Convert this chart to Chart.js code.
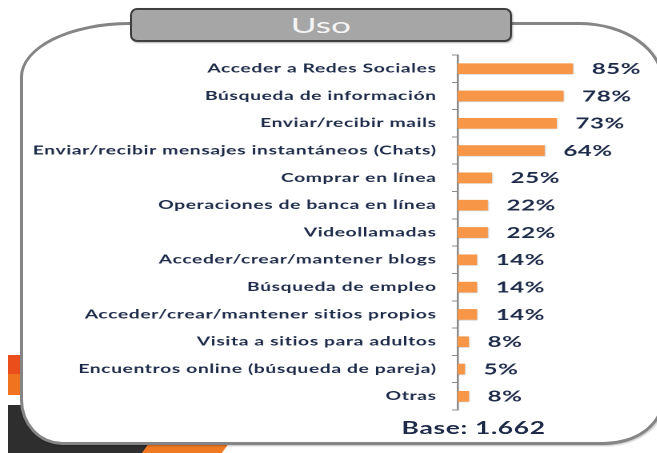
<!DOCTYPE html>
<html>
<head>
<meta charset="utf-8">
<script src="https://cdn.jsdelivr.net/npm/chart.js@4.4.1/dist/chart.umd.min.js"></script>
<style>
  html, body { margin: 0; padding: 0; background: #fff; }
  #page { position: relative; width: 657px; height: 453px; overflow: hidden; background: #fff; font-family: Lato, sans-serif; }
  .deco { position: absolute; }
  #box {
    position: absolute; left: 20px; top: 22px; width: 638px; height: 417px;
    border: 3px solid #858585; background: #fff;
    border-radius: 110px 85px 60px 42px / 55px 60px 45px 45px;
    box-shadow: 1px 1px 2px rgba(0,0,0,0.25);
  }
  #tab {
    position: absolute; left: 130px; top: 8px; width: 378px; height: 30px;
    background: #a6a6a6; border: 2px solid #3f3f3f; border-radius: 7px;
    text-align: center; line-height: 30px; box-shadow: 1px 1px 2px rgba(0,0,0,0.3);
  }
  #tab span { display: inline-block; transform: scaleX(1.6); color: #f4f4f4; font-size: 22px; }
  #wrap { position: absolute; left: 0; top: 0; width: 411px; height: 453px; transform: scaleX(1.6); transform-origin: 0 0; }
  #base { position: absolute; left: 251px; top: 418px; font-size: 16.5px; letter-spacing: 0.4px; font-weight: bold; color: #1d2a48; }
</style>
</head>
<body>
<div id="page">
  <div class="deco" style="left:8px;top:355px;width:40px;height:19px;background:#e94e1b"></div>
  <div class="deco" style="left:8px;top:374px;width:40px;height:21px;background:#f0731f"></div>
  <div class="deco" style="left:8px;top:405px;width:150px;height:48px;background:#2e2e2e"></div>
  <div class="deco" style="left:150px;top:430px;width:80px;height:23px;background:#f07a22;transform:skewX(-35deg)"></div>
  <div id="box"></div>
  <div id="tab"><span>Uso</span></div>
  <div id="wrap">
    <canvas id="myChart" width="411" height="453"></canvas>
    <div id="base">Base: 1.662</div>
  </div>
</div>
<script>
const categories = [
  'Acceder a Redes Sociales',
  'Búsqueda de información',
  'Enviar/recibir mails',
  'Enviar/recibir mensajes instantáneos (Chats)',
  'Comprar en línea',
  'Operaciones de banca en línea',
  'Videollamadas',
  'Acceder/crear/mantener blogs',
  'Búsqueda de empleo',
  'Acceder/crear/mantener sitios propios',
  'Visita a sitios para adultos',
  'Encuentros online (búsqueda de pareja)',
  'Otras'
];
const values = [85, 78, 73, 64, 25, 22, 22, 14, 14, 14, 8, 5, 8];

const textColor = '#1d2a48';

// wider letters like the original, and percentages to the right of each bar
const valueLabels = {
  id: 'valueLabels',
  beforeDraw(chart) {
    chart.ctx.letterSpacing = '0.4px';
  },
  beforeDatasetsDraw(chart) {
    const ctx = chart.ctx;
    ctx.save();
    ctx.shadowColor = 'rgba(0,0,0,0.22)';
    ctx.shadowBlur = 2;
    ctx.shadowOffsetX = 1;
    ctx.shadowOffsetY = 1;
  },
  afterDatasetsDraw(chart) {
    const ctx = chart.ctx;
    ctx.restore();
    const meta = chart.getDatasetMeta(0);
    ctx.save();
    ctx.font = 'bold 15px Lato';
    ctx.fillStyle = textColor;
    ctx.textAlign = 'left';
    ctx.textBaseline = 'middle';
    meta.data.forEach((bar, i) => {
      ctx.fillText(values[i] + '%', bar.x + 12, bar.y + 0.5);
    });
    ctx.restore();
  }
};

const ctx = document.getElementById('myChart');

new Chart(ctx, {
  type: 'bar',
  data: {
    labels: categories,
    datasets: [{
      data: values,
      backgroundColor: '#f79646',
      barThickness: 10
    }]
  },
  options: {
    indexAxis: 'y',
    responsive: false,
    animation: false,
    devicePixelRatio: 2,
    layout: { padding: { top: 55, bottom: 43, left: 0, right: 40.5 } },
    plugins: { legend: { display: false }, tooltip: { enabled: false } },
    scales: {
      x: { display: false, min: 0, max: 100 },
      y: {
        grid: { display: true, drawOnChartArea: false, offset: true, tickLength: 3.5, color: '#8c8c8c', lineWidth: 1 },
        border: { display: true, color: '#8c8c8c', width: 1.3 },
        ticks: { color: textColor, font: { family: 'Lato', size: 12, weight: 'bold' }, padding: 9.6, autoSkip: false },
        afterFit(scale) { scale.width = 286; }
      }
    }
  },
  plugins: [valueLabels]
});
</script>
</body>
</html>
